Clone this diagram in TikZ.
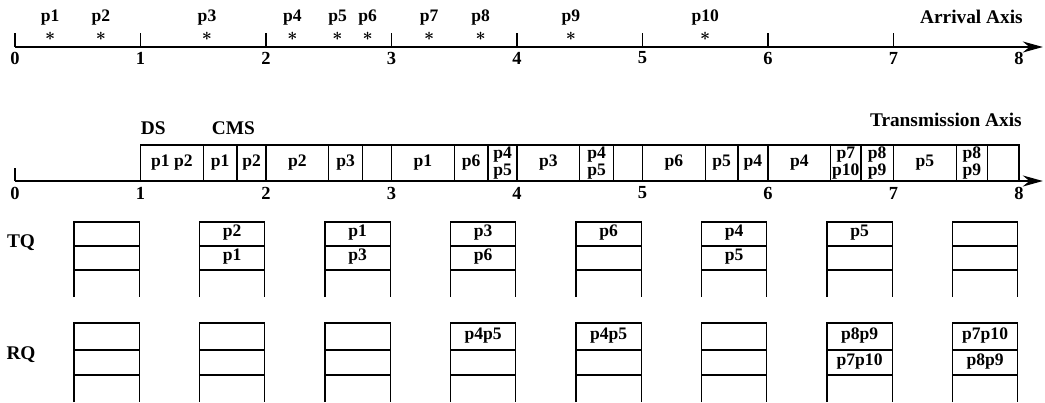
\documentclass[tikz,border=0pt]{standalone}
\usepackage{fontspec}
\setmainfont{Liberation Serif}
\usetikzlibrary{arrows.meta,positioning}
\tikzset{
  axisline/.style={-{Stealth[length=4mm,width=2.2mm]}, line width=1.1pt},
  tickline/.style={line width=1pt},
  slotbox/.style={draw, line width=0.8pt, minimum height=0.72cm, inner sep=0pt, align=center, font=\bfseries\fontsize{10}{8.5}\selectfont},
  ticklabel/.style={font=\bfseries\fontsize{10.5}{12}\selectfont, inner sep=0pt},
  pktlabel/.style={font=\bfseries\fontsize{10}{12}\selectfont, inner sep=0pt},
  starmark/.style={inner sep=0pt, font=\normalsize\boldmath},
  axistitle/.style={font=\bfseries\fontsize{11}{13}\selectfont, anchor=east, inner sep=0pt},
  queueline/.style={line width=0.8pt},
  celltext/.style={font=\bfseries\fontsize{10}{12}\selectfont, inner sep=0pt},
}

\begin{document}
\begin{tikzpicture}[x=2.51cm,y=1cm]
\useasboundingbox (-0.1195,0) rectangle (8.2072,8.04);
% arrival axis
\coordinate (a0) at (0,7.10);
\coordinate (aend) at (8.19,7.10);
\draw[axisline] (a0) -- (aend);
\foreach \k in {0,...,7}
  \draw[tickline] (\k,7.10) -- (\k,7.38);
\foreach \k in {0,...,8}
  \node[ticklabel] (at\k) at (\k,6.88) {\k};
\foreach \x/\name in {0.28/p1,0.685/p2,1.53/p3,2.21/p4,2.57/p5,2.81/p6,3.30/p7,3.71/p8,4.43/p9,5.50/p10}{
  \node[starmark] (s\name) at (\x,7.31) {$\ast$};
  \node[pktlabel] (l\name) at (\x,7.68) {\name};
}
\node[axistitle] (arrtitle) at (8.032,7.70) {Arrival Axis};

% transmission axis
\coordinate (t0) at (0,4.42);
\coordinate (tend) at (8.19,4.42);
\draw[axisline] (t0) -- (tend);
\draw[tickline] (0,4.42) -- (0,4.68);
\foreach \k in {0,...,8}
  \node[ticklabel] (tt\k) at (\k,4.18) {\k};
\foreach \a/\b/\txt [count=\i] in {
1/1.5/{p1 p2}, 1.5/1.77/p1, 1.77/2/p2,
2/2.5/p2, 2.5/2.77/p3, 2.77/3/{},
3/3.5/p1, 3.5/3.77/p6, 3.77/4/{p4\\p5},
4/4.5/p3, 4.5/4.77/{p4\\p5}, 4.77/5/{},
5/5.5/p6, 5.5/5.76/p5, 5.76/6/p4,
6/6.5/p4, 6.5/6.74/{p7\\p10}, 6.74/7/{p8\\p9},
7/7.5/p5, 7.5/7.75/{p8\\p9}, 7.75/8/{}}{
  \pgfmathsetmacro{\w}{(\b-\a)*2.51}
  \pgfmathsetmacro{\m}{(\a+\b)/2}
  \node[slotbox, minimum width=\w cm] (slot\i) at (\m,4.78) {\txt};
}
\node[font=\bfseries\fontsize{11}{13}\selectfont, anchor=west, inner sep=0pt] (ds) at (1.0,5.48) {DS};
\node[font=\bfseries\fontsize{11}{13}\selectfont, inner sep=0pt] (cms) at (1.74,5.48) {CMS};
\node[axistitle] (trtitle) at (8.024,5.64) {Transmission Axis};

% queues
\node[celltext, font=\bfseries\fontsize{11}{13}\selectfont] (tq) at (0.048,3.18) {TQ};
\node[celltext, font=\bfseries\fontsize{11}{13}\selectfont] (rq) at (0.048,0.94) {RQ};
\foreach \k/\ta/\tb/\ra/\rb in {
1/{}/{}/{}/{},
2/p2/p1/{}/{},
3/p1/p3/{}/{},
4/p3/p6/p4p5/{},
5/p6/{}/p4p5/{},
6/p4/p5/{}/{},
7/p5/{}/p8p9/p7p10,
8/{}/{}/p7p10/p8p9}{
  \draw[queueline] (\k-0.53,2.10) -- (\k-0.53,3.60) -- (\k-0.01,3.60) -- (\k-0.01,2.10);
  \draw[queueline] (\k-0.53,3.12) -- (\k-0.01,3.12);
  \draw[queueline] (\k-0.53,2.64) -- (\k-0.01,2.64);
  \node[celltext] (tq\k a) at (\k-0.27,3.38) {\ta};
  \node[celltext] (tq\k b) at (\k-0.27,2.90) {\tb};
  \draw[queueline] (\k-0.53,0) -- (\k-0.53,1.58) -- (\k-0.01,1.58) -- (\k-0.01,0);
  \draw[queueline] (\k-0.53,1.04) -- (\k-0.01,1.04);
  \draw[queueline] (\k-0.53,0.54) -- (\k-0.01,0.54);
  \node[celltext] (rq\k a) at (\k-0.27,1.33) {\ra};
  \node[celltext] (rq\k b) at (\k-0.27,0.81) {\rb};
}
\end{tikzpicture}
\end{document}
